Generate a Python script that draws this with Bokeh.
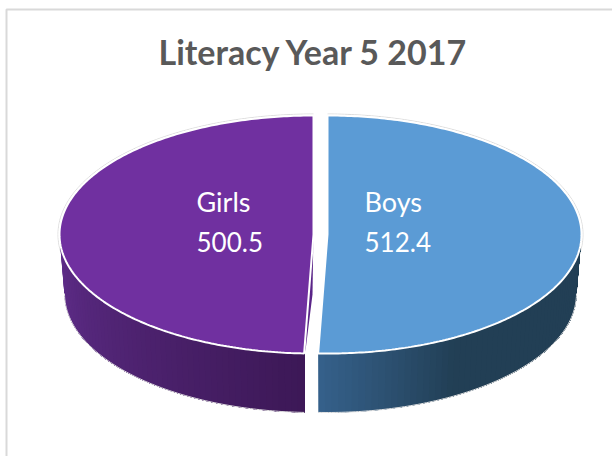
import numpy as np
from bokeh.plotting import figure
from bokeh.models import Range1d
from bokeh.core.properties import value
from bokeh.embed import file_html
from bokeh.resources import INLINE

TITLE = "Literacy Year 5 2017"
categories = ["Boys", "Girls"]
scores = [512.4, 500.5]
top_colors = ["#5B9BD5", "#7030A0"]
side_left = ["#35608A", "#5F2D8A"]
side_right = ["#223F55", "#3C1856"]

W, H = 612, 456
p = figure(width=W, height=H, output_backend="svg", toolbar_location=None,
           x_range=Range1d(0, W), y_range=Range1d(H, 0),
           min_border=0, outline_line_color=None, background_fill_color="white")
p.axis.visible = False
p.grid.visible = False

# border of the chart area
p.line([6, 6, 612], [456, 9, 9], line_color="#D9D9D9", line_width=2)

total = sum(scores)
shares = [s / total for s in scores]
CX = {"Boys": 327.0, "Girls": 313.0}
CY, RX, RY = 234.0, 254.0, 119.0
BCY, BRX, BRY = 293.0, 249.0, 119.0


def pt(cx, cy, rx, ry, a):
    # a is clockwise from the top, in radians
    return cx + rx * np.sin(a), cy - ry * np.cos(a)


def mix(c1, c2, t):
    a = [int(c1[i:i + 2], 16) for i in (1, 3, 5)]
    b = [int(c2[i:i + 2], 16) for i in (1, 3, 5)]
    return "#%02x%02x%02x" % tuple(int(round(u + (v - u) * t)) for u, v in zip(a, b))


start = {"Boys": 0.0, "Girls": shares[0] * 2 * np.pi}
end = {"Boys": shares[0] * 2 * np.pi, "Girls": 2 * np.pi}

for i, name in enumerate(categories):
    cx = CX[name]
    a0, a1 = start[name], end[name]
    # faint rim outside the top face
    aa = np.linspace(a0, a1, 240)
    x, y = pt(cx, CY, RX + 1.5, RY + 1.5, aa)
    p.line(x, y, line_color="#DDDDDD", line_width=1)

    # side wall: painted from left to right, each strip reaching to the far end
    lo, hi = max(a0, np.pi / 2), min(a1, 3 * np.pi / 2)
    edges = np.linspace(hi, lo, 60, endpoint=False)
    for e in edges:
        aa = np.linspace(e, lo, 80)
        tx, ty = pt(cx, CY, RX, RY, aa)
        bx, by = pt(cx, BCY, BRX, BRY, aa)
        if name == "Boys":
            t = min(1.0, (hi - e) / 0.55)
        else:
            t = (hi - e) / (hi - lo)
        p.patch(list(tx) + list(bx[::-1]), list(ty) + list(by[::-1]),
                fill_color=mix(side_left[i], side_right[i], t), line_color=None)
    # outline of the wall
    aa = np.linspace(lo, hi, 120)
    bx, by = pt(cx, BCY, BRX, BRY, aa)
    p.line(bx, by, line_color="#E4E4E4", line_width=1)

    # top face
    aa = np.linspace(a0, a1, 240)
    x, y = pt(cx, CY, RX, RY, aa)
    if name == "Girls":
        # sliver of the cut face, seen right of the top face
        rx0, ry0 = pt(cx, CY, RX, RY, a0)
        p.patch([cx, cx - 1, rx0 + 2, rx0 + 0.5],
                [CY - 8, CY + 60, ry0 - 8, ry0],
                fill_color="#5A2488", line_color=None)
    p.patch([cx] + list(x), [CY] + list(y), fill_color=top_colors[i],
            line_color="white", line_width=2)

p.text([158], [51], text=[TITLE], text_font=value("Lato"), text_font_style="bold",
       text_font_size="34px", text_color="#595959", text_baseline="middle", text_align="left")

LABEL_X = {"Boys": 364, "Girls": 196}
for name, val in zip(categories, scores):
    p.text([LABEL_X[name]], [201], text=[name], text_font=value("Lato"), text_font_size="27px",
           text_color="white", text_baseline="middle", text_align="left")
    p.text([LABEL_X[name]], [241], text=[f"{val:.1f}"], text_font=value("Lato"), text_font_size="26px",
           text_color="white", text_baseline="middle", text_align="left")

open("out.html", "w").write(file_html(p, INLINE))
